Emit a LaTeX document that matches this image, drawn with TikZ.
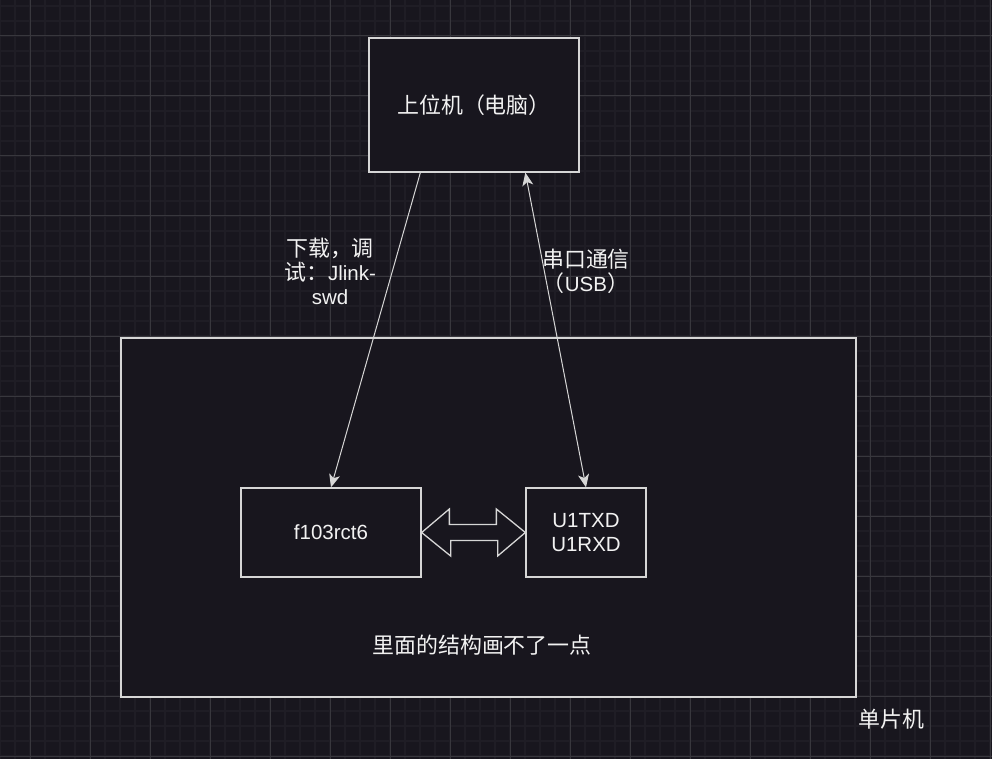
\documentclass[tikz,border=0pt]{standalone}
\usepackage{fontspec}
\setmainfont{Liberation Sans}
\newfontfamily\cjk[Scale=1.07]{Noto Sans CJK SC}
\usepackage{xcolor}
\usetikzlibrary{
	positioning,						% Relative positioning
	arrows.meta,						% Arrow tips
	calc								% Coordinate calculations
}
\definecolor{canvas}{HTML}{18161E}
\definecolor{grid-minor}{HTML}{1F1D25}
\definecolor{grid-major}{HTML}{38373D}
\definecolor{stroke}{HTML}{D6D6D6}
\definecolor{ink}{HTML}{F2F2F2}

\begin{document}
\begin{tikzpicture}[x=1pt, y=-1pt, font=\fontsize{20.5}{24}\selectfont]
		\tikzstyle{box} = [draw=stroke, fill=canvas, line width=1.3pt, text=ink, inner sep=0pt]
		\tikzstyle{label} = [text=ink, align=center, inner sep=0pt]
		\tikzstyle{link} = [draw=stroke, line width=1pt, -{Stealth[length=13pt, width=11pt, inset=3.5pt]}]
		
		% Background
		\fill[canvas] (0,0) rectangle (992,759);
		\useasboundingbox (0,0) rectangle (992,759);
		%% Grid
		\foreach \gx in {0, 15, ..., 990}{
			\draw[grid-minor, line width=1.5pt] (\gx,0) -- (\gx,759);
		}
		\foreach \gy in {6, 21, ..., 756}{
			\draw[grid-minor, line width=1.5pt] (0,\gy) -- (992,\gy);
		}
		\foreach \gx in {30, 90, ..., 990}{
			\draw[grid-major, line width=1pt] (\gx,0) -- (\gx,759);
		}
		\foreach \gy in {36, 96, ..., 756}{
			\draw[grid-major, line width=1pt] (0,\gy) -- (992,\gy);
		}
		
		% Boxes
		\node[box, minimum width=210pt, minimum height=134pt] at (474,105) (hostPC) {{\cjk 上位机（电脑）}};
		\node[box, minimum width=735pt, minimum height=359pt] at (488.5,517.5) (mcuBoard) {};
		\node[box, minimum width=180pt, minimum height=89pt] at (331,532.5) (chipBox) {f103rct6};
		\node[box, minimum width=120pt, minimum height=89pt, align=center] at (586,532.5) (uartBox) {U1TXD\\U1RXD};
		
		%% Link between chip and uart
		\draw[draw=stroke, fill=canvas, line width=1.3pt] (chipBox.east) -- ++(29,23.5) -- ++(0,-15.5) -- ++(47,0) -- ++(0,15.5)
			-- (uartBox.west) -- ++(-29,-23.5) -- ++(0,15.5) -- ++(-47,0) -- ++(0,-15.5) -- cycle;
		
		% Connectors
		\draw[link] ([xshift=52pt]hostPC.south west) to (chipBox.north);
		\draw[link, {Stealth[length=13pt, width=11pt, inset=3.5pt]}-{Stealth[length=13pt, width=11pt, inset=3.5pt]}] ([xshift=157pt]hostPC.south west) to (uartBox.north);
		
		% Labels
		\node[label] at (330,271) (debugLabel) {{\cjk 下载，调}\\{\cjk 试：}Jlink-\\swd};
		\node[label] at (586,271) (serialLabel) {{\cjk 串口通信}\\{\cjk （}USB{\cjk ）}};
		\node[label] at (482,645) (noteLabel) {{\cjk 里面的结构画不了一点}};
		\node[label, below right=11pt and 2pt of mcuBoard.south east] (mcuLabel) {{\cjk 单片机}};
	\end{tikzpicture}
\end{document}
